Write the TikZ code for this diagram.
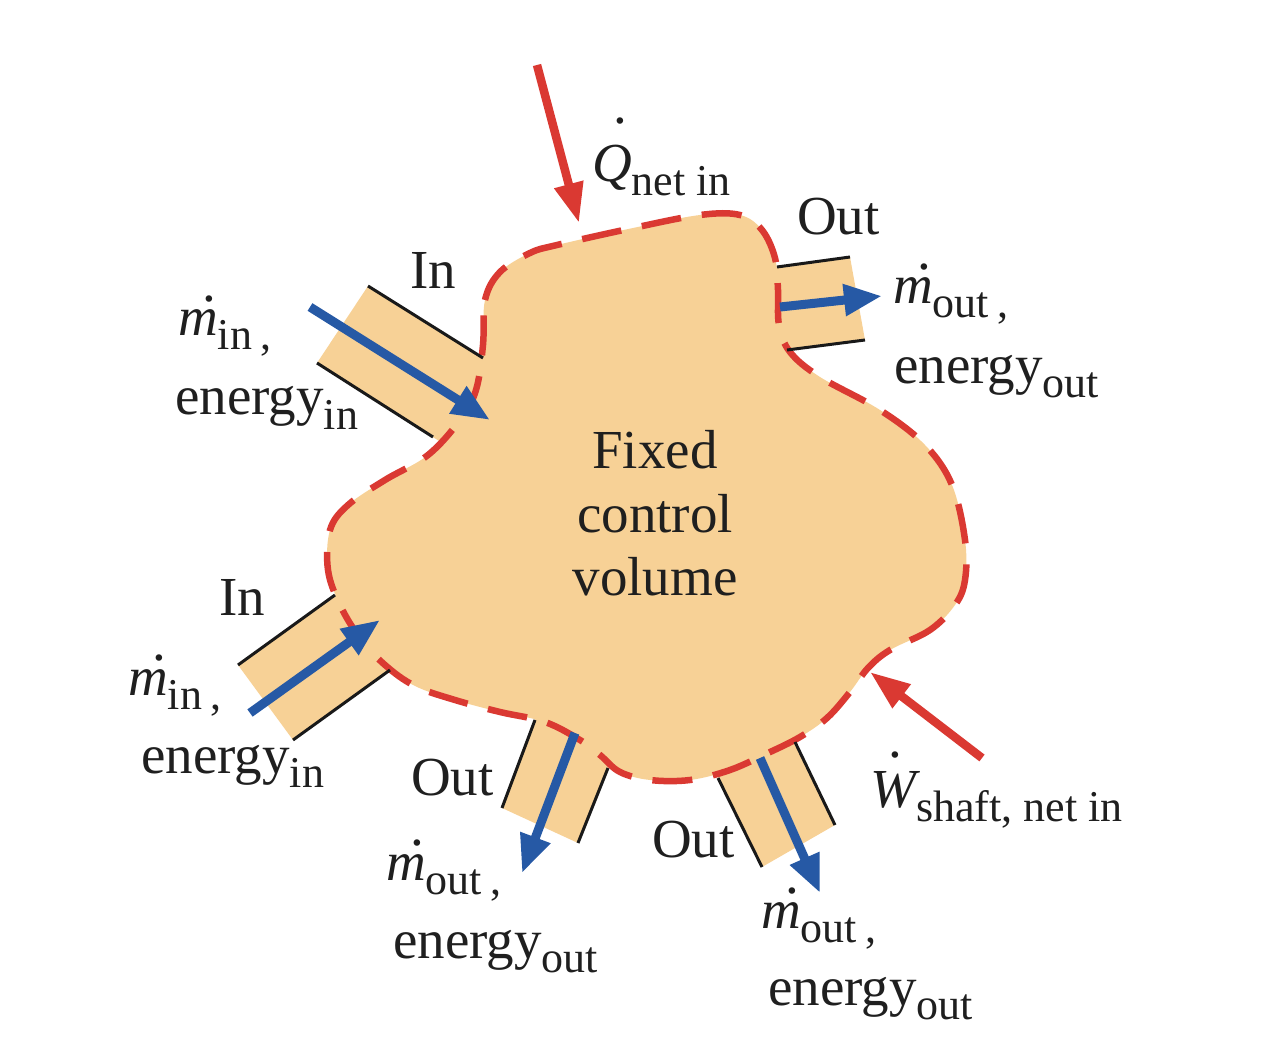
\documentclass[tikz,border=0pt]{standalone}
\usepackage{fontspec}
\setmainfont{Liberation Serif}
\usetikzlibrary{arrows.meta}
\definecolor{cvfill}{RGB}{247,209,150}
\definecolor{cvred}{RGB}{218,57,50}
\definecolor{cvblue}{RGB}{38,89,165}
\newcommand\dotab[3]{\ooalign{#3\cr\hidewidth\kern#2\raisebox{#1}{\upshape.}\hidewidth\cr}}
\newcommand\sbs[1]{\raisebox{-14pt}{\fontsize{44}{44}\selectfont #1}}
\newcommand\mdot{\dotab{0.63em}{0.4em}{\itshape m}}
\begin{document}
\begin{tikzpicture}[x=1pt,y=-1pt,
  every node/.style={font=\fontsize{55}{63}\selectfont, inner sep=0pt, text=black!88},
  pipefill/.style={fill=cvfill, draw=none},
  pipeside/.style={black!90, line width=3pt},
  flowarrow/.style={cvblue, line width=9pt, -{Triangle[length=38pt,width=30pt]}},
  heatarrow/.style={cvred, line width=8.5pt, -{Triangle[length=40pt,width=28pt]}},
  boundary/.style={cvred, line width=6.5pt, dash pattern=on 40pt off 21pt, fill=cvfill}]
\path[use as bounding box] (0,0) rectangle (1280,1064);

% pipe bodies
\path[pipefill] (368,286) -- (500,368) -- (450,448) -- (317,363) -- cycle;
\path[pipefill] (760,269) -- (850,257) -- (865,340) -- (770,352) -- cycle;
\path[pipefill] (350,585) -- (238,665) -- (293,740) -- (405,660) -- cycle;
\path[pipefill] (540,705) -- (502,808) -- (578,843) -- (615,750) -- cycle;
\path[pipefill] (712,765) -- (762,867) -- (835,825) -- (788,728) -- cycle;

% control volume
\draw[boundary] plot[smooth cycle, tension=0.6] coordinates {
 (483,345) (485,300) (500,272) (530,253) (557,245) (633,228) (700,215) (740,215)
 (762,230) (775,258) (778,290) (779,325) (790,352) (820,377) (880,410) (925,445)
 (952,485) (965,540) (965,580) (955,605) (930,630) (890,650) (868,668) (850,692)
 (827,718) (800,737) (768,753) (730,770) (690,780) (650,780) (620,772) (600,755)
 (580,740) (545,722) (500,712) (455,700) (415,686) (385,665) (360,638) (340,605)
 (328,570) (330,530) (348,505) (385,480) (428,455) (460,420) (476,390)};

% pipe sides
\draw[pipeside] (368,286) -- (483,358);
\draw[pipeside] (317,363) -- (433,437);
\draw[pipeside] (777,267) -- (850,257);
\draw[pipeside] (787,350) -- (865,340);
\draw[pipeside] (335,595) -- (238,665);
\draw[pipeside] (390,670) -- (293,740);
\draw[pipeside] (535,720) -- (502,808);
\draw[pipeside] (608,768) -- (578,843);
\draw[pipeside] (718,778) -- (762,867);
\draw[pipeside] (795,742) -- (835,825);

% arrow end points
\coordinate (in1a) at (310,307);  \coordinate (in1b) at (490,420);
\coordinate (out1a) at (780,307); \coordinate (out1b) at (882,296);
\coordinate (in2a) at (250,713);  \coordinate (in2b) at (380,620);
\coordinate (out2a) at (575,733); \coordinate (out2b) at (522,873);
\coordinate (out3a) at (760,758); \coordinate (out3b) at (820,893);
\coordinate (qa) at (537,65);     \coordinate (qb) at (579,223);
\coordinate (wa) at (982,758);    \coordinate (wb) at (870,672);

\draw[flowarrow] (in1a) -- (in1b);
\draw[flowarrow] (out1a) -- (out1b);
\draw[flowarrow] (in2a) -- (in2b);
\draw[flowarrow] (out2a) -- (out2b);
\draw[flowarrow] (out3a) -- (out3b);
\draw[heatarrow] (qa) -- (qb);
\draw[heatarrow] (wa) -- (wb);

% texts
\node[anchor=base] (cv1) at (655,468) {Fixed};
\node[anchor=base] (cv2) at (655,532) {control};
\node[anchor=base] (cv3) at (655,595) {volume};

\node[anchor=base west] (qlab) at (592,182) {\dotab{1.06em}{0.3em}{\itshape Q}\sbs{net in}};
\node[anchor=base west] (wlab) at (870,807) {\dotab{0.9em}{0.1em}{\itshape W}\sbs{shaft, net in}};

\node[anchor=base west] (inlab1) at (410,289) {In};
\node[anchor=base west] (min1) at (178,336) {\mdot\sbs{in\hspace{0.18em},}};
\node[anchor=base west] (ein1) at (175,415) {energy\sbs{in}};

\node[anchor=base west] (outlab1) at (797,235) {Out};
\node[anchor=base west] (mout1) at (893,304) {\mdot\sbs{out\hspace{0.18em},}};
\node[anchor=base west] (eout1) at (894,384) {energy\sbs{out}};

\node[anchor=base west] (inlab2) at (219,615) {In};
\node[anchor=base west] (min2) at (128,695) {\mdot\sbs{in\hspace{0.18em},}};
\node[anchor=base west] (ein2) at (141,773) {energy\sbs{in}};

\node[anchor=base west] (outlab2) at (411,795) {Out};
\node[anchor=base west] (mout2) at (386,880) {\mdot\sbs{out\hspace{0.18em},}};
\node[anchor=base west] (eout2) at (393,958) {energy\sbs{out}};

\node[anchor=base west] (outlab3) at (652,857) {Out};
\node[anchor=base west] (mout3) at (761,928) {\mdot\sbs{out\hspace{0.18em},}};
\node[anchor=base west] (eout3) at (768,1005) {energy\sbs{out}};
\end{tikzpicture}
\end{document}
